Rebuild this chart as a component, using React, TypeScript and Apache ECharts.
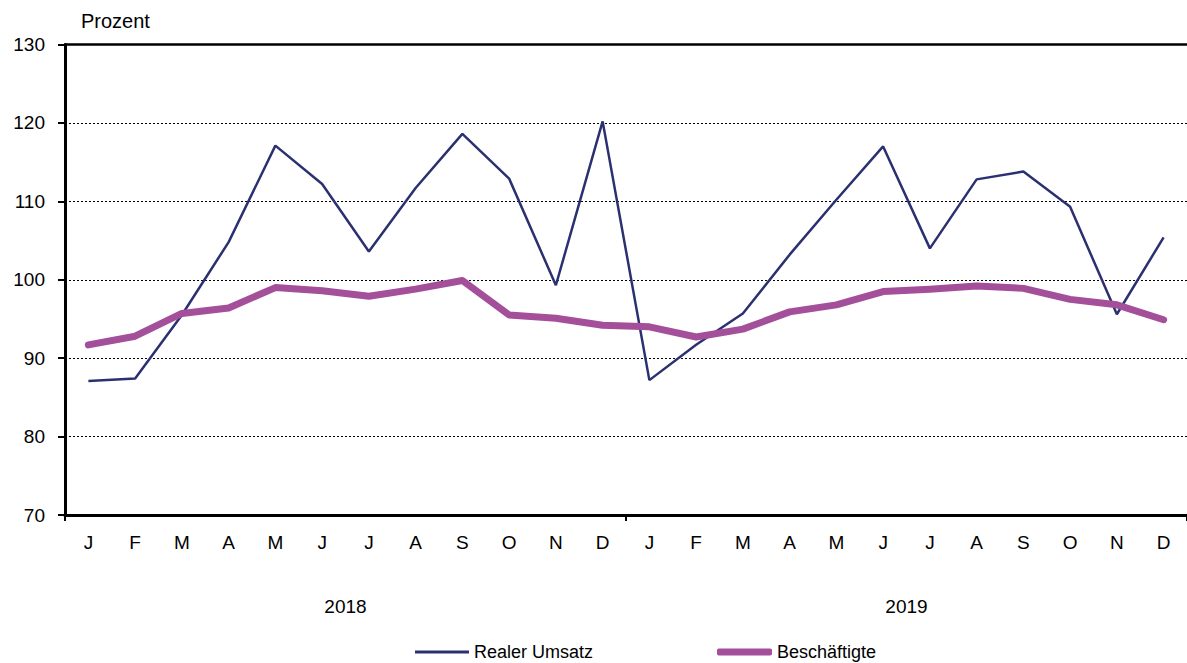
import React, { useEffect, useRef } from "react";
import * as echarts from "echarts";

const months = ["J","F","M","A","M","J","J","A","S","O","N","D","J","F","M","A","M","J","J","A","S","O","N","D"];
const years = ["2018", "2019"];
const yTicks = { min: 70, max: 130, interval: 10 };

const realerUmsatz = [
  87.1, 87.4, 95.5, 104.8, 117.1, 112.2, 103.6, 111.7, 118.6, 112.9, 99.3, 120.2,
  87.2, 91.7, 95.7, 103.2, 110.2, 117.0, 104.0, 112.8, 113.8, 109.3, 95.6, 105.4,
];
const beschaeftigte = [
  91.7, 92.8, 95.7, 96.4, 99.0, 98.6, 97.9, 98.8, 99.9, 95.5, 95.1, 94.2,
  94.0, 92.7, 93.7, 95.9, 96.8, 98.5, 98.8, 99.2, 98.9, 97.5, 96.8, 94.9,
];

const NAVY = "#2B3070";
const PURPLE = "#A44F9A";
const FONT = "Liberation Sans, Arial, sans-serif";

export default function App() {
  const ref = useRef<HTMLDivElement>(null);
  useEffect(() => {
    if (!ref.current) return;
    const chart = echarts.init(ref.current, null, { renderer: "svg" });
    chart.setOption({
      animation: false,
      textStyle: { fontFamily: FONT },
      grid: { left: 65, right: 0, top: 44.5, bottom: 148, containLabel: false },
      xAxis: [
        {
          type: "category",
          data: months,
          boundaryGap: true,
          position: "bottom",
          axisLine: { show: true, lineStyle: { color: "#000", width: 3 } },
          axisTick: {
            show: true,
            length: 6,
            inside: false,
            lineStyle: { color: "#000", width: 2 },
            interval: (i: number) => i === 0 || i === 12,
          },
          axisLabel: { color: "#000", fontSize: 19, margin: 18, fontFamily: FONT, interval: 0 },
          splitLine: {
            show: true,
            interval: (i: number) => i === 12,
            lineStyle: { color: "#555", type: [2, 2], width: 1 },
          },
        },
        {
          type: "category",
          data: years,
          position: "bottom",
          offset: 72,
          axisLine: { show: false },
          axisTick: { show: false },
          axisLabel: { color: "#000", fontSize: 19, margin: 10, fontFamily: FONT },
          splitLine: { show: false },
        },
        {
          type: "category",
          data: months,
          position: "top",
          axisLine: { show: true, lineStyle: { color: "#000", width: 2.5 } },
          axisTick: { show: false },
          axisLabel: { show: false },
          splitLine: { show: false },
        },
      ],
      yAxis: {
        type: "value",
        min: yTicks.min,
        max: yTicks.max,
        interval: yTicks.interval,
        name: "Prozent",
        nameLocation: "end",
        nameGap: 14,
        nameTextStyle: { color: "#000", fontSize: 20, fontFamily: FONT, align: "left", padding: [0, 0, 0, 16] },
        axisLine: { show: true, lineStyle: { color: "#000", width: 3 } },
        axisTick: { show: true, length: 7, lineStyle: { color: "#000", width: 2 } },
        axisLabel: { color: "#000", fontSize: 19, margin: 20, fontFamily: FONT },
        splitLine: { show: true, lineStyle: { color: "#000", type: [2, 2], width: 1 } },
      },
      legend: [
        {
          left: 415,
          top: 642,
          padding: 0,
          itemWidth: 54,
          itemHeight: 3,
          itemGap: 0,
          data: [{ name: "Realer Umsatz", icon: "rect" }],
          textStyle: { color: "#000", fontSize: 18, fontFamily: FONT, lineHeight: 20 },
        },
        {
          left: 717,
          top: 642,
          padding: 0,
          itemWidth: 55,
          itemHeight: 7,
          itemGap: 0,
          data: [{ name: "Beschäftigte", icon: "roundRect" }],
          textStyle: { color: "#000", fontSize: 18, fontFamily: FONT, lineHeight: 20 },
        },
      ],
      series: [
        {
          name: "Realer Umsatz",
          type: "line",
          data: realerUmsatz,
          symbol: "none",
          color: NAVY,
          lineStyle: { color: NAVY, width: 2.5 },
          z: 3,
        },
        {
          name: "Beschäftigte",
          type: "line",
          data: beschaeftigte,
          symbol: "none",
          color: PURPLE,
          lineStyle: { color: PURPLE, width: 7, cap: "round", join: "round" },
          z: 4,
        },
      ],
    });
    return () => chart.dispose();
  }, []);
  return (
    <div
      ref={ref}
      style={{ position: "fixed", left: 0, top: 0, width: 1187, height: 663, background: "#fff" }}
    />
  );
}
